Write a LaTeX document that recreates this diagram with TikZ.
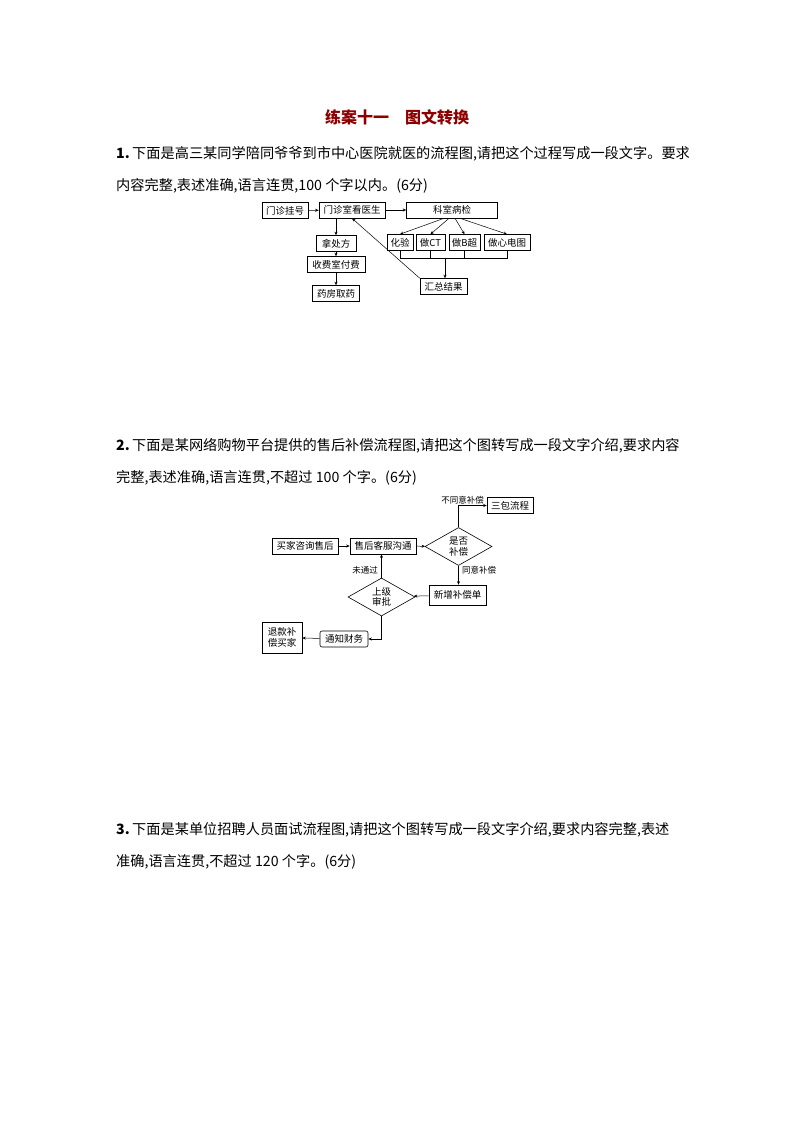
\documentclass[tikz,border=0pt]{standalone}
\usepackage{fontspec}
\setmainfont{Liberation Serif}
\newfontfamily\cjk{Noto Sans CJK SC}
\usetikzlibrary{shapes.geometric,arrows.meta}
\begin{document}
\begin{tikzpicture}[x=1pt,y=-1pt,
  bx/.style={draw,line width=0.6pt,inner sep=1.5pt,font=\cjk\fontsize{9.5}{10}\selectfont,minimum height=16pt},
  dm/.style={draw,diamond,aspect=1.8,inner sep=0.5pt,line width=0.6pt,font=\cjk\fontsize{9.5}{10.5}\selectfont,align=center,minimum width=67pt,minimum height=38pt},
  ar/.style={-{Stealth[length=3.5pt,width=3pt]},line width=0.5pt},
  ln/.style={line width=0.5pt},
  lb/.style={font=\cjk\fontsize{8.5}{9}\selectfont,inner sep=1pt},
  body/.style={anchor=west,font=\cjk\fontsize{14.2}{15}\selectfont,inner sep=0pt}]
\useasboundingbox (0,0) rectangle (794,1123);
\node[font=\cjk\bfseries\fontsize{16}{18}\selectfont,text=red!55!black] (title) at (397,117) {练案十一\quad 图文转换};
\node[body] (t1a) at (116,154) {\textbf{1.}\,下面是高三某同学陪同爷爷到市中心医院就医的流程图,请把这个过程写成一段文字。要求};
\node[body] (t1b) at (116,186) {内容完整,表述准确,语言连贯,100 个字以内。(6分)};
\node[body] (t2a) at (116,446) {\textbf{2.}\,下面是某网络购物平台提供的售后补偿流程图,请把这个图转写成一段文字介绍,要求内容};
\node[body] (t2b) at (116,478) {完整,表述准确,语言连贯,不超过 100 个字。(6分)};
\node[body] (t3a) at (116,830) {\textbf{3.}\,下面是某单位招聘人员面试流程图,请把这个图转写成一段文字介绍,要求内容完整,表述};
\node[body] (t3b) at (116,862) {准确,语言连贯,不超过 120 个字。(6分)};
% diagram 1
\node[bx,minimum width=46pt] (a) at (285,210.5) {门诊挂号};
\node[bx,minimum width=66pt] (b) at (352,210) {门诊室看医生};
\node[bx,minimum width=91pt] (c) at (452,210) {科室病检};
\node[bx,minimum width=26pt] (d1) at (400,242.5) {化验};
\node[bx,minimum width=29pt] (d2) at (430.5,242.5) {做CT};
\node[bx,minimum width=31pt] (d3) at (464.5,242.5) {做B超};
\node[bx,minimum width=46pt] (d4) at (507,242.5) {做心电图};
\node[bx,minimum width=40pt] (e1) at (336,243.5) {拿处方};
\node[bx,minimum width=58pt] (e2) at (336,264.5) {收费室付费};
\node[bx,minimum width=47pt] (e3) at (336,293.5) {药房取药};
\node[bx,minimum width=47pt] (f) at (443.5,286.5) {汇总结果};
\draw[ar] (a) -- (b);
\draw[ar] (b) -- (c);
\draw[ar] (b.south-|e1) -- (e1);
\draw[ar] (e1) -- (e2);
\draw[ar] (e2) -- (e3);
\draw[ar] ([xshift=-8pt]c.south) -- (d1.north);
\draw[ar] ([xshift=-3pt]c.south) -- (d2.north);
\draw[ar] ([xshift=3pt]c.south) -- (d3.north);
\draw[ar] ([xshift=8pt]c.south) -- (d4.north);
\coordinate (br) at (0,258);
\draw[ln] (d1.south) -- (d1.south|-br) -- (d4.south|-br) -- (d4.south);
\draw[ln] (d2.south) -- (d2.south|-br);
\draw[ln] (d3.south) -- (d3.south|-br);
\draw[ar] (445,258) -- (f.north-|445,0);
\draw[ar] (f.north west) -- ([xshift=0pt]b.south);
% diagram 2
\node[bx,minimum width=46pt] (g) at (510,505.5) {三包流程};
\node[bx,minimum width=66pt] (h) at (305,546) {买家咨询售后};
\node[bx,minimum width=66pt] (i) at (383,546) {售后客服沟通};
\node[dm] (j) at (458.5,546.5) {是否\\补偿};
\node[bx,minimum width=57pt,minimum height=20pt] (k) at (457.5,595) {新增补偿单};
\node[dm] (l) at (381.5,597) {上级\\审批};
\node[bx,rounded corners=2pt,minimum width=48pt] (m) at (344,639) {通知财务};
\node[bx,align=center,minimum width=40pt,minimum height=31pt,font=\cjk\fontsize{9.5}{11}\selectfont] (n) at (282,637.5) {退款补\\偿买家};
\draw[ar] (h) -- (i);
\draw[ar] (i) -- (j);
\draw[ar] (j.north) -- (j.north|-g.west) -- (g.west);
\node[lb,anchor=south east] (lb1) at (485,505) {不同意补偿};
\draw[ar] (j.south) -- (k.north-|j.south);
\node[lb,anchor=west] (lb2) at (461,570.5) {同意补偿};
\draw[ar] (k) -- (l);
\draw[ar] (l.north) -- (i.south-|l.north);
\node[lb,anchor=east] (lb3) at (379,570) {未通过};
\draw[ar] (l.south) -- (l.south|-m.east) -- (m.east);
\draw[ar] (m) -- (n);
\end{tikzpicture}
\end{document}
